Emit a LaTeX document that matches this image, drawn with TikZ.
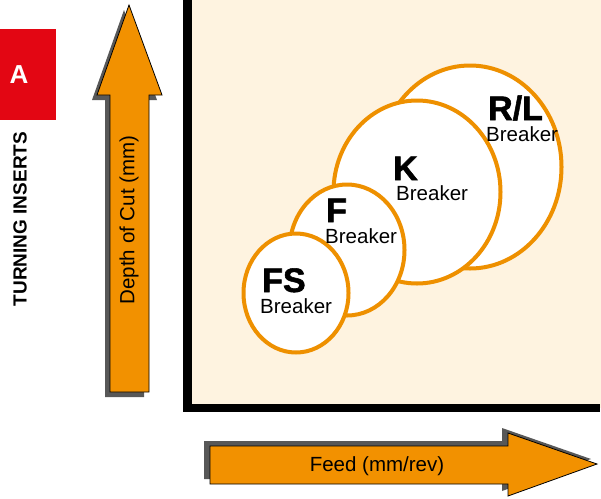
\documentclass[tikz,border=0pt]{standalone}
\usepackage{fontspec}
\setmainfont{Liberation Sans}
\newfontfamily\heavyfont[BoldFeatures={FakeBold=1.6}]{Liberation Sans}
\usetikzlibrary{shapes.geometric}
\definecolor{cream}{HTML}{FEF3E0}
\definecolor{orng}{HTML}{F29100}
\definecolor{ring}{HTML}{EE9000}
\definecolor{redA}{HTML}{E30613}
\definecolor{shad}{HTML}{585858}
\tikzset{
  bub/.style={ellipse, draw=ring, line width=4pt, fill=white, inner sep=0pt},
  big/.style={anchor=base west, inner sep=0pt, font=\fontsize{34}{38}\heavyfont\bfseries},
  brk/.style={anchor=base west, inner sep=0pt, font=\fontsize{20.5}{24}\selectfont},
  arr/.style={fill=orng, draw=black, line width=0.8pt, line join=miter},
  arrshadow/.style={fill=shad, draw=none}
}
\begin{document}
\begin{tikzpicture}[x=1pt,y=-1pt]
\useasboundingbox (0,0) rectangle (601,498);
% red tab
\fill[redA] (0,29) rectangle (56,120);
\node[text=white, font=\fontsize{26}{30}\selectfont\bfseries] (tabA) at (19,75) {A};
\node[rotate=90, font=\fontsize{19}{22}\selectfont\bfseries] (title) at (20,219) {TURNING INSERTS};
% chart background
\fill[cream] (188,0) rectangle (601,408);
\fill[black] (183,0) rectangle (192,412);
\fill[black] (183,404) rectangle (600,412);
% vertical arrow
\fill[arrshadow, shift={(-5,5)}] (110,392) -- (110,95) -- (97,95) -- (129,5) -- (162,95) -- (149,95) -- (149,392) -- cycle;
\draw[arr] (110,392) -- (110,95) -- (97,95) -- (129,5) -- (162,95) -- (149,95) -- (149,392) -- cycle;
\node[rotate=90, font=\fontsize{20.5}{24}\selectfont] (depth) at (129,220) {Depth of Cut (mm)};
% horizontal arrow
\fill[arrshadow, shift={(-6,-5)}] (210,446) -- (508,446) -- (508,433) -- (597,464) -- (508,496) -- (508,484) -- (210,484) -- cycle;
\draw[arr] (210,446) -- (508,446) -- (508,433) -- (597,464) -- (508,496) -- (508,484) -- (210,484) -- cycle;
\node[font=\fontsize{20.5}{24}\selectfont] (feed) at (377,466) {Feed (mm/rev)};
% bubbles
\node[bub, minimum width=183, minimum height=203] (rl) at (470,167) {};
\node[bub, minimum width=167, minimum height=183] (k) at (417,192) {};
\node[bub, minimum width=115, minimum height=131] (f) at (347,250) {};
\node[bub, minimum width=105, minimum height=119] (fs) at (296,293) {};
% labels
\node[big] (rlT) at (488,120) {R/L};
\node[brk] (rlB) at (486,141) {Breaker};
\node[big] (kT) at (393,180) {K};
\node[brk] (kB) at (396,200) {Breaker};
\node[big] (fT) at (326,222) {F};
\node[brk] (fB) at (325,243) {Breaker};
\node[big] (fsT) at (262,292) {FS};
\node[brk] (fsB) at (260,313) {Breaker};
\end{tikzpicture}
\end{document}
